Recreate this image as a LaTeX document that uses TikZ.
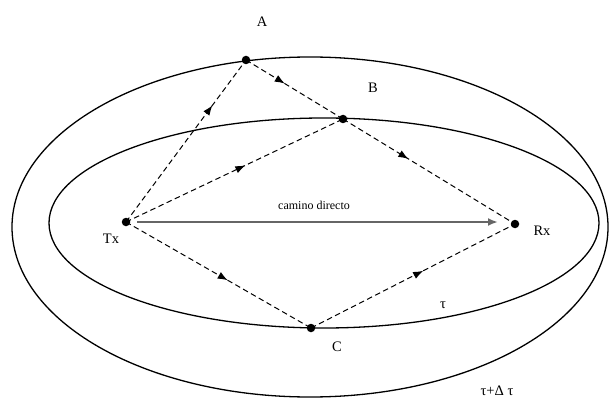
\documentclass[tikz,border=0pt]{standalone}
\usepackage{fontspec}
\setmainfont{Liberation Serif}
\usetikzlibrary{arrows.meta,decorations.markings}
\begin{document}
\begin{tikzpicture}[x=1pt,y=-1pt,
  ell/.style={draw=black,line width=1.3pt},
  dot/.style={circle,fill=black,inner sep=0pt,minimum size=8.5pt},
  lbl/.style={font=\fontsize{14.5}{16}\selectfont,inner sep=0pt},
  ray/.style={line width=1pt,dash pattern=on 5.5pt off 3.5pt,
    postaction={decorate},
    decoration={markings,mark=at position #1 with {\arrow{Latex[length=10pt,width=7.5pt]}}}},
  direct/.style={draw=gray!80!black,line width=2.2pt,-{Latex[length=10pt,width=8pt]}}]
\useasboundingbox (0,0) rectangle (612,398);
% ellipses
\draw[ell] (310,227) ellipse [x radius=298, y radius=170];
\draw[ell] (324,223) ellipse [x radius=275, y radius=105];
% points
\node[dot] (tx) at (126,222) {};
\node[dot] (rx) at (515,224) {};
\node[dot] (a) at (246,60) {};
\node[dot] (b) at (343,119) {};
\node[dot] (c) at (311,328) {};
% labels
\node[lbl] (la) at (262,22) {A};
\node[lbl] (lb) at (373,88) {B};
\node[lbl] (ltx) at (111,239) {Tx};
\node[lbl] (lrx) at (542,231) {Rx};
\node[lbl] (lc) at (337,347) {C};
\node[lbl] (ltau) at (443,305) {τ};
\node[lbl] (ltaud) at (497,391) {τ+Δ τ};
% paths
\draw[ray=0.72] (tx.center) -- (a.center);
\draw[ray=0.4] (a.center) -- (b.center);
\draw[ray=0.55] (tx.center) -- (b.center);
\draw[ray=0.38] (b.center) -- (rx.center);
\draw[ray=0.55] (tx.center) -- (c.center);
\draw[ray=0.55] (c.center) -- (rx.center);
\coordinate (ds) at (137,222);
\coordinate (de) at (498,222);
\draw[direct] (ds) -- (de);
\node[font=\fontsize{12}{14}\selectfont,inner sep=0pt] (cd) at (314,205) {camino directo};
\end{tikzpicture}
\end{document}
